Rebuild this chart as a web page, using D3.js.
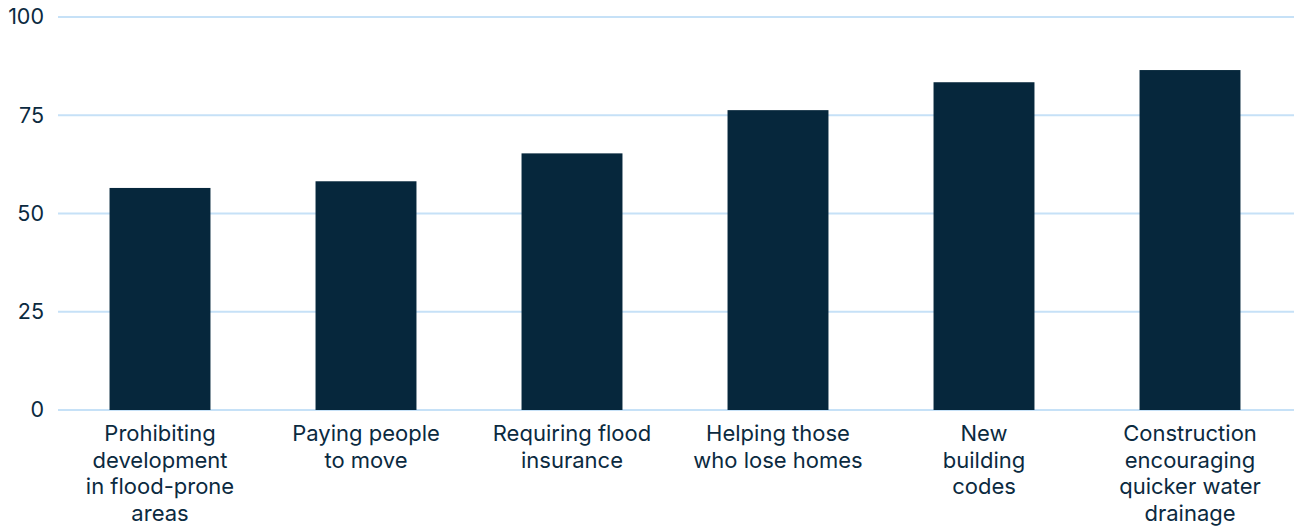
<!DOCTYPE html>
<html>
<head>
<meta charset="utf-8">
<script src="https://cdn.jsdelivr.net/npm/d3@7"></script>
<style>
  html, body { margin: 0; padding: 0; background: #ffffff; }
  svg { display: block; }
  text { font-family: Inter, "Open Sans", sans-serif; fill: #0b2a3f; }
</style>
</head>
<body>
<svg id="chart" width="1296" height="527"></svg>
<script>
const categories = [
  "Prohibiting\ndevelopment\nin flood-prone\nareas",
  "Paying people\nto move",
  "Requiring flood\ninsurance",
  "Helping those\nwho lose homes",
  "New\nbuilding\ncodes",
  "Construction\nencouraging\nquicker water\ndrainage"
];
const values = [56.5, 58.2, 65.3, 76.3, 83.4, 86.5];
const yTicks = [0, 25, 50, 75, 100];

const W = 1296, H = 527;
const margin = { left: 57, right: 3, top: 17, bottom: 117 };
const svg = d3.select("#chart");

const x = d3.scaleBand()
  .domain(categories)
  .range([margin.left, W - margin.right])
  .paddingInner(0.51)
  .paddingOuter(0.255);

const y = d3.scaleLinear()
  .domain([0, 100])
  .range([H - margin.bottom, margin.top]);

// gridlines
svg.append("g")
  .selectAll("line")
  .data(yTicks)
  .join("line")
  .attr("x1", 58)
  .attr("x2", 1294)
  .attr("y1", d => y(d))
  .attr("y2", d => y(d))
  .attr("stroke", "#c6e1f7")
  .attr("stroke-width", 2);

// y axis labels
const yAxis = d3.axisLeft(y).tickValues(yTicks).tickSize(0).tickPadding(14);
const yg = svg.append("g")
  .attr("transform", `translate(58,0)`)
  .call(yAxis);
yg.select(".domain").remove();
yg.selectAll("text")
  .attr("font-size", 21.5)
  .attr("font-family", "Inter, 'Open Sans', sans-serif")
  .attr("fill", "#0b2a3f");

// bars
svg.append("g")
  .selectAll("rect")
  .data(values)
  .join("rect")
  .attr("x", (d, i) => x(categories[i]))
  .attr("width", x.bandwidth())
  .attr("y", d => y(d))
  .attr("height", d => y(0) - y(d))
  .attr("fill", "#06273c");

// x axis labels
const xAxis = d3.axisBottom(x).tickSize(0).tickPadding(0).tickFormat(() => "");
const xg = svg.append("g")
  .attr("transform", `translate(0,${y(0)})`)
  .call(xAxis);
xg.select(".domain").remove();
xg.selectAll(".tick").each(function(d) {
  const t = d3.select(this).select("text")
    .attr("font-size", 22)
    .attr("text-anchor", "middle")
    .attr("fill", "#0b2a3f")
    .attr("y", 0)
    .attr("dy", null);
  d.split("\n").forEach((line, i) => {
    t.append("tspan")
      .attr("x", 0)
      .attr("y", 31 + i * 26.5)
      .text(line);
  });
});
</script>
</body>
</html>
